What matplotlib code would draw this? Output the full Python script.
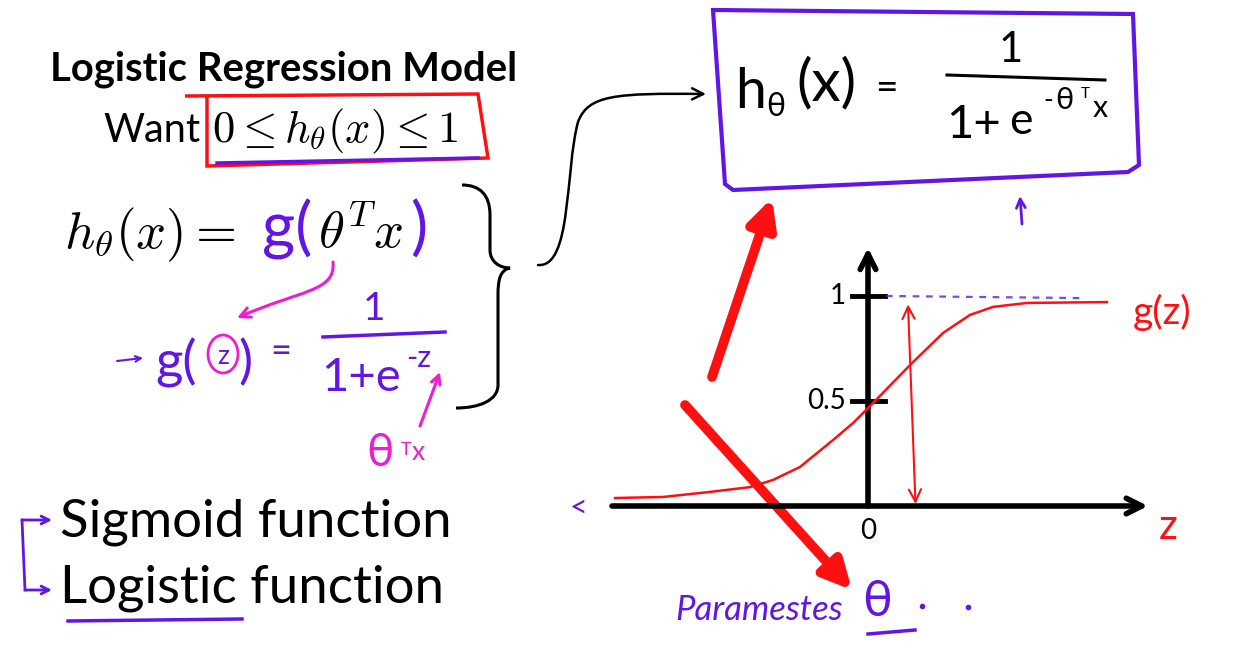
import matplotlib
matplotlib.use('Agg')
import matplotlib.pyplot as plt
from matplotlib.patches import FancyArrowPatch, Ellipse, Polygon, PathPatch
from matplotlib.path import Path

PURPLE = '#6216e6'
RED = '#ff1010'
PINK = '#f01cd0'
FONT = 'Lato'

# sigmoid sketch (z units / g units)
curve_z = [-5.06, -4.10, -3.16, -2.36, -1.90, -1.36, -0.70, -0.30, 0.02,
           0.84, 1.50, 2.04, 2.50, 3.18, 4.78]
curve_g = [0.038, 0.043, 0.067, 0.090, 0.124, 0.186, 0.314, 0.395, 0.471,
           0.671, 0.824, 0.910, 0.948, 0.967, 0.971]
tick_g = [1.0, 0.5]
tick_labels = ['1', '0.5']

fig = plt.figure(figsize=(12.5, 6.62), dpi=100)
ax = fig.add_axes([0, 0, 1, 1])
ax.set_xlim(0, 1250)
ax.set_ylim(662, 0)
ax.axis('off')


def arrow(p0, p1, color, lw, style='->', ms=15, z=3, path=None):
    if path is not None:
        a = FancyArrowPatch(path=path, arrowstyle=style, color=color, lw=lw,
                            mutation_scale=ms, zorder=z, capstyle='round')
    else:
        a = FancyArrowPatch(p0, p1, arrowstyle=style, color=color, lw=lw,
                            mutation_scale=ms, zorder=z, shrinkA=0, shrinkB=0)
    ax.add_patch(a)


def hand(x, y, s, size, color='black', **kw):
    # handwritten bits
    kw.setdefault('va', 'baseline')
    ax.text(x, y, s, family=FONT, fontsize=size, color=color, **kw)


# ---- left side: slide text ----
ax.text(50, 80, 'Logistic Regression Model', family=FONT, fontweight='bold',
        fontsize=28.8, va='baseline')
ax.text(103, 142, 'Want', family=FONT, fontsize=28.5, va='baseline')
ax.text(212, 142, r'$0 \leq h_\theta(x) \leq 1$', math_fontfamily='cm',
        fontsize=32, va='baseline')
# red box + blue underline
ax.add_patch(Polygon([(185, 96), (478, 94), (488, 158), (207, 166), (207, 96)],
                     closed=False, fill=False, ec=RED, lw=2.5, zorder=2))
ax.plot([217, 478], [163, 158], color=PURPLE, lw=2.5)

ax.text(64, 248, r'$h_\theta(x) =$', math_fontfamily='cm', fontsize=38,
        va='baseline')
hand(262, 249, 'g(', 46, PURPLE)
ax.text(318, 248, r'$\theta^T x$', math_fontfamily='cm', fontsize=38,
        va='baseline')
hand(411, 249, ')', 46, PURPLE)

# brace
brace = Path([(462, 185), (480, 185), (490, 195), (490, 215), (490, 250),
              (490, 262), (500, 268), (510, 268), (500, 270), (498, 280),
              (498, 295), (498, 385), (498, 400), (480, 408), (456, 408)],
             [Path.MOVETO, Path.CURVE4, Path.CURVE4, Path.CURVE4, Path.LINETO,
              Path.CURVE4, Path.CURVE4, Path.CURVE4, Path.CURVE4, Path.CURVE4,
              Path.CURVE4, Path.LINETO, Path.CURVE4, Path.CURVE4, Path.CURVE4])
ax.add_patch(PathPatch(brace, fill=False, lw=2.2, ec='black'))

# pink arrow from g(theta^T x) down to g(z)
arrow(None, None, PINK, 2.2, ms=18,
      path=Path([(333, 262), (336, 292), (300, 290), (237, 318)],
                [Path.MOVETO, Path.CURVE4, Path.CURVE4, Path.CURVE4]))

# g(z) = 1 / (1 + e^-z)
arrow((117, 361), (143, 358), PURPLE, 1.5, ms=10)
hand(155, 378, 'g(', 38, PURPLE)
hand(223, 357, 'z', 19, PURPLE, ha='center', va='center')
ax.add_patch(Ellipse((223, 354), 30, 38, fill=False, ec=PINK, lw=2))
hand(238, 378, ')', 38, PURPLE)
hand(281, 352, '=', 26, PURPLE, ha='center', va='center')
hand(374, 320, '1', 28, PURPLE, ha='center')
ax.plot([323, 445], [337, 332], color=PURPLE, lw=2.5)
hand(321, 391, '1+e', 34, PURPLE)
hand(406, 367, '-z', 22, PURPLE)
arrow((420, 426), (440, 372), PINK, 2.2, ms=16)
hand(366, 466, 'θ', 33, PINK)
hand(401, 455, 'T', 13, PINK)
hand(412, 460, 'x', 19, PINK)

ax.text(60, 537, 'Sigmoid function', family=FONT, fontsize=38, va='baseline')
ax.text(60, 603, 'Logistic function', family=FONT, fontsize=38,
        va='baseline')
ax.plot([22, 25], [520, 590], color=PURPLE, lw=2)
arrow((22, 520), (52, 520), PURPLE, 2, ms=14)
arrow((25, 590), (52, 590), PURPLE, 2, ms=14)
ax.plot([68, 242], [621, 619], color=PURPLE, lw=2.5)

# ---- top right boxed formula ----
ax.add_patch(Polygon([(713, 10), (1133, 14), (1139, 165), (1128, 172),
                      (733, 190), (725, 184)], closed=True, fill=False,
                     ec=PURPLE, lw=3))
hand(735, 108, 'h', 40)
hand(766, 116, 'θ', 23)
hand(796, 100, '(x)', 42)
hand(886, 89, '=', 28, ha='center', va='center')
hand(1011, 62, '1', 30, ha='center')
ax.plot([947, 1105], [75, 80], color='black', lw=2.2)
hand(946, 138, '1+', 34)
hand(1009, 134, 'e', 32)
hand(1043, 108, '-', 19)
hand(1055, 109, 'θ', 22)
hand(1081, 98, 'T', 11)
hand(1093, 117, 'x', 22)

# black curved arrow to the box
arrow(None, None, 'black', 1.8, ms=20,
      path=Path([(538, 265), (572, 268), (565, 170), (578, 122),
                 (588, 95), (615, 93), (706, 94)],
                [Path.MOVETO, Path.CURVE4, Path.CURVE4, Path.CURVE4,
                 Path.CURVE4, Path.CURVE4, Path.CURVE4]))
arrow((1022, 224), (1020, 196), PURPLE, 2, ms=16)

# ---- sigmoid sketch ----
ax2 = fig.add_axes([568 / 1250, (662 - 548) / 662, 600 / 1250, 315 / 662])
ax2.set_xlim(-6, 6)
ax2.set_ylim(-0.2, 1.3)
ax2.axis('off')
ax2.patch.set_alpha(0)

ax2.plot(curve_z, curve_g, color=RED, lw=1.8, zorder=3)
ax2.add_patch(FancyArrowPatch((-5.12, 0), (5.6, 0), arrowstyle='->',
                              mutation_scale=28, lw=4, color='black',
                              shrinkA=0, shrinkB=0, zorder=2))
ax2.add_patch(FancyArrowPatch((0, 0), (0, 1.23), arrowstyle='->',
                              mutation_scale=28, lw=4, color='black',
                              shrinkA=0, shrinkB=0, zorder=2))
for g, lab in zip(tick_g, tick_labels):
    ax2.plot([-0.33, 0.34], [g, g], color='black', lw=3.5, zorder=2)
    ax2.text(-0.45, g, lab, family=FONT, fontsize=20, ha='right',
             va='center')
ax2.text(0, -0.12, '0', family=FONT, fontsize=20, ha='center', va='center')
ax2.plot([0.36, 4.3], [1.0, 0.99], color=PURPLE, lw=1.6, ls=(0, (3, 3)),
         alpha=0.8)
ax2.add_patch(FancyArrowPatch((0.95, 0.01), (0.8, 0.96), arrowstyle='<->',
                              mutation_scale=22, lw=1.5, color=RED,
                              shrinkA=0, shrinkB=0, zorder=3))
ax2.text(5.3, 0.92, 'g(z)', family=FONT, color=RED, fontsize=28,
         va='center')
ax2.text(6.0, -0.1, 'z', family=FONT, color=RED, fontsize=30, ha='center',
         va='center')
ax2.text(-5.8, -0.01, '<', family=FONT, color=PURPLE, fontsize=22,
         ha='center', va='center')

# Parameters theta
hand(675, 620, 'Paramestes', 25, PURPLE, style='italic')
hand(862, 616, 'θ', 36, PURPLE)
ax.plot([868, 915], [634, 630], color=PURPLE, lw=2.5)
ax.plot([922, 968], [606, 607], ls='none', marker='o', ms=3, color=PURPLE)

# big red highlight arrows
arrow((712, 377), (772, 198), RED, 7, style='-|>', ms=42, z=6)
arrow((685, 405), (852, 590), RED, 7, style='-|>', ms=42, z=6)

fig.savefig('out.png', dpi=100)
